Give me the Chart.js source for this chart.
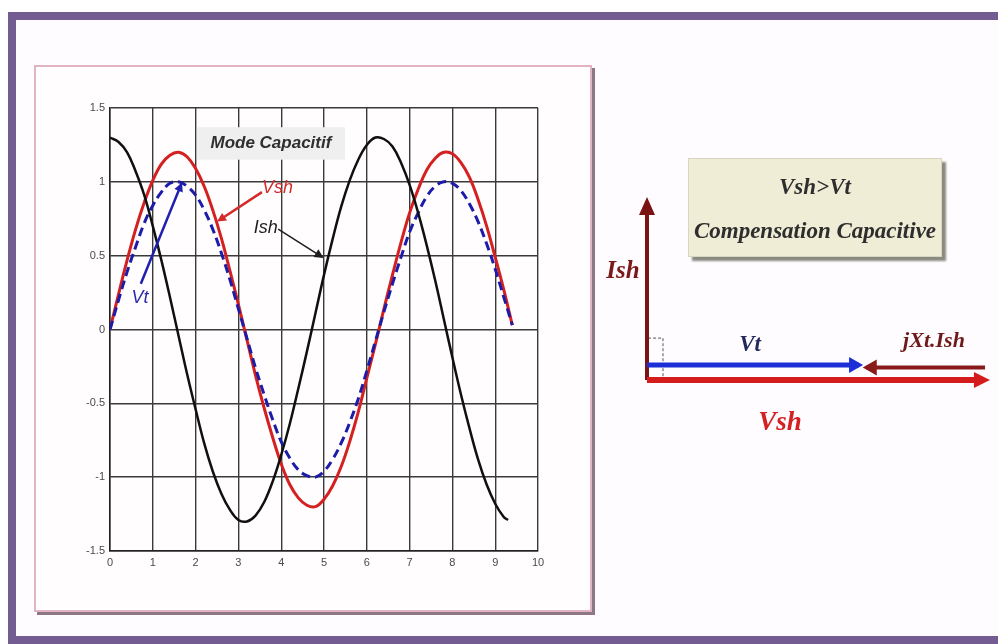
<!DOCTYPE html>
<html>
<head>
<meta charset="utf-8">
<script src="https://cdn.jsdelivr.net/npm/chart.js@4.4.1/dist/chart.umd.min.js"></script>
<style>
  html, body { margin:0; padding:0; width:998px; height:644px; overflow:hidden; background:#ffffff; }
  #frame { position:absolute; left:8px; top:12px; width:1020px; height:616px;
           border:8px solid #735c91; border-right:none; background:#fffcff; box-sizing:content-box; }
  #panel { position:absolute; left:34px; top:65px; width:554px; height:543px;
           border:2px solid #e2b3c3; background:#fffdfe; box-shadow:3px 3px 0 #8d7686; }
  #plotWrap { position:absolute; left:60px; top:95px; width:500px; height:490px; }
  #phWrap { position:absolute; left:600px; top:150px; width:398px; height:300px; }
  .lbl { position:absolute; font-family:"Liberation Serif","Times New Roman",serif; font-style:italic; font-weight:bold;
         white-space:nowrap; transform:translate(-50%,-50%); line-height:1; }
  #note { position:absolute; left:688px; top:158px; width:254px; height:99px; background:#efedd6;
          border:1px solid #d8d6c0; box-shadow:4px 4px 2px #8a8a80; box-sizing:border-box; }
  #note div { position:absolute; left:0; width:100%; text-align:center; font-family:"Liberation Serif","Times New Roman",serif;
              font-style:italic; font-weight:bold; color:#2e2e2e; font-size:23px; line-height:1; }
</style>
</head>
<body>
<div id="frame"></div>
<div id="panel"></div>
<div id="plotWrap"><canvas id="plot" width="500" height="490"></canvas></div>
<div id="phWrap"><canvas id="phasor" width="398" height="300"></canvas></div>
<div id="note"><div style="top:16px">Vsh&gt;Vt</div><div style="top:60px">Compensation Capacitive</div></div>
<div class="lbl" style="left:623px;top:269px;font-size:25px;color:#7b1818">Ish</div>
<div class="lbl" style="left:750px;top:343px;font-size:23px;color:#24295c">Vt</div>
<div class="lbl" style="left:934px;top:340px;font-size:22px;color:#6e1a1a">jXt.Ish</div>
<div class="lbl" style="left:780px;top:421px;font-size:27px;color:#d42020">Vsh</div>
<script>
// ---------- data ----------
const TIME = [0,0.2,0.4,0.6,0.8,1,1.2,1.4,1.6,1.8,2,2.2,2.4,2.6,2.8,3,3.2,3.4,3.6,3.8,4,4.2,4.4,4.6,4.8,
              5,5.2,5.4,5.6,5.8,6,6.2,6.4,6.6,6.8,7,7.2,7.4,7.6,7.8,8,8.2,8.4,8.6,8.8,9,9.2,9.4];
const ISH_LAST_TIME = 9.3;
const VSH = [0,0.24,0.47,0.68,0.86,1.01,1.12,1.18,1.20,1.17,1.09,0.97,0.81,0.62,0.40,0.17,-0.07,-0.31,-0.53,-0.73,
             -0.91,-1.05,-1.14,-1.19,-1.20,-1.15,-1.06,-0.93,-0.76,-0.56,-0.33,-0.10,0.14,0.37,0.59,0.79,0.95,1.08,1.16,1.20,
             1.19,1.13,1.03,0.88,0.70,0.49,0.27,0.03];
const VT  = [0,0.20,0.39,0.56,0.72,0.84,0.93,0.99,1.00,0.97,0.91,0.81,0.68,0.52,0.34,0.14,-0.06,-0.26,-0.44,-0.61,
             -0.76,-0.87,-0.95,-0.99,-1.00,-0.96,-0.88,-0.77,-0.63,-0.47,-0.28,-0.08,0.12,0.31,0.49,0.66,0.79,0.90,0.97,1.00,
             0.99,0.94,0.85,0.73,0.58,0.41,0.22,0.03];
const ISH = [1.30,1.27,1.20,1.07,0.91,0.70,0.47,0.22,-0.04,-0.30,-0.54,-0.77,-0.96,-1.11,-1.22,-1.29,-1.30,-1.26,-1.17,-1.03,
             -0.85,-0.64,-0.40,-0.15,0.11,0.37,0.61,0.83,1.01,1.15,1.25,1.30,1.29,1.24,1.13,0.98,0.79,0.57,0.33,0.07,
             -0.19,-0.44,-0.67,-0.88,-1.05,-1.18,-1.27,-1.29];
const X_TICK_LABELS = ['0','1','2','3','4','5','6','7','8','9','10'];
const Y_TICK_LABELS = ['-1.5','-1','-0.5','0','0.5','1','1.5'];
const TITLE_TEXT = 'Mode Capacitif';
// callouts: label, label anchor (x,y), arrow from (x,y) to (x,y)
const CALLOUT_NAMES = ['Vsh','Ish','Vt'];
const CALLOUT_LABEL_X = [3.55, 3.92, 0.70];
const CALLOUT_LABEL_Y = [0.96, 0.69, 0.21];
const CALLOUT_FROM_X = [3.55, 3.93, 0.72];
const CALLOUT_FROM_Y = [0.93, 0.68, 0.31];
const CALLOUT_TO_X   = [2.55, 4.96, 1.66];
const CALLOUT_TO_Y   = [0.74, 0.49, 0.98];

// phasor diagram (per-unit, Vt = 1)
const PHASOR_NAMES = ['Vsh','Vt','jXt.Ish','Ish'];
const PHASOR_FROM_RE = [0, 0, 1.565, 0];
const PHASOR_FROM_IM = [0, 0, 0, 0];
const PHASOR_TO_RE   = [1.56, 0.98, 1.015, 0];
const PHASOR_TO_IM   = [0, 0, 0, 0.826];

// ---------- helpers ----------
const pts = (xs, ys) => xs.map((x, i) => ({x, y: ys[i]}));
const ishTime = TIME.slice(0, TIME.length - 1).concat([ISH_LAST_TIME]);

function arrowHeadPlugin(id) {
  return {
    id,
    afterDatasetsDraw(chart) {
      const ctx = chart.ctx;
      chart.data.datasets.forEach((ds, i) => {
        if (!ds.arrowHead) return;
        const meta = chart.getDatasetMeta(i);
        if (meta.hidden) return;
        const d = meta.data, n = d.length;
        const p1 = d[n - 2], p2 = d[n - 1];
        const a = Math.atan2(p2.y - p1.y, p2.x - p1.x);
        const L = ds.arrowHead.len, W = ds.arrowHead.half;
        const off = (ds.borderWidth / 2) * (L / W);
        const tx = p2.x + Math.cos(a) * off, ty = p2.y + Math.sin(a) * off;
        ctx.save();
        ctx.fillStyle = ds.arrowHead.color || ds.borderColor;
        ctx.beginPath();
        ctx.moveTo(tx, ty);
        ctx.lineTo(tx - Math.cos(a) * L - Math.sin(a) * W, ty - Math.sin(a) * L + Math.cos(a) * W);
        ctx.lineTo(tx - Math.cos(a) * L + Math.sin(a) * W, ty - Math.sin(a) * L - Math.cos(a) * W);
        ctx.closePath();
        ctx.fill();
        ctx.restore();
      });
    }
  };
}

const annotPlugin = {
  id: 'annot',
  beforeDatasetsDraw(chart) {
    const {ctx, scales: {x, y}} = chart;
    const x0 = x.getPixelForValue(2.03), x1 = x.getPixelForValue(5.49);
    const y0 = y.getPixelForValue(1.37), y1 = y.getPixelForValue(1.15);
    ctx.save();
    ctx.fillStyle = '#efefef';
    ctx.fillRect(x0, y0, x1 - x0, y1 - y0);
    ctx.fillStyle = '#2f2f2f';
    ctx.font = 'italic bold 17px "Liberation Sans", Arial, sans-serif';
    ctx.textAlign = 'center';
    ctx.textBaseline = 'middle';
    ctx.fillText(TITLE_TEXT, (x0 + x1) / 2, (y0 + y1) / 2);
    ctx.restore();
  },
  afterDatasetsDraw(chart) {
    const {ctx, scales: {x, y}} = chart;
    const colors = ['#d42a2a', '#1e1e1e', '#2a2aa8'];
    const aligns = ['left', 'right', 'center'];
    ctx.save();
    ctx.font = 'italic 18px "Liberation Sans", Arial, sans-serif';
    ctx.textBaseline = 'middle';
    CALLOUT_NAMES.forEach((name, i) => {
      ctx.fillStyle = colors[i];
      ctx.textAlign = aligns[i];
      ctx.fillText(name, x.getPixelForValue(CALLOUT_LABEL_X[i]), y.getPixelForValue(CALLOUT_LABEL_Y[i]));
    });
    ctx.restore();
  }
};

const calloutColors = ['#d42a2a', '#1e1e1e', '#2020b0'];
const calloutWidths = [2.5, 1.5, 2.5];
const calloutSets = CALLOUT_NAMES.map((n, i) => ({
  label: n + ' callout',
  data: [{x: CALLOUT_FROM_X[i], y: CALLOUT_FROM_Y[i]}, {x: CALLOUT_TO_X[i], y: CALLOUT_TO_Y[i]}],
  borderColor: calloutColors[i], borderWidth: calloutWidths[i], pointRadius: 0, tension: 0,
  arrowHead: {len: 9, half: 4.5}, order: 0
}));

new Chart(document.getElementById('plot'), {
  type: 'line',
  data: {
    datasets: [
      {label: 'Vsh', data: pts(TIME, VSH), borderColor: '#d42020', borderWidth: 3, pointRadius: 0, tension: 0.4, order: 3},
      {label: 'Vt', data: pts(TIME, VT), borderColor: '#1c1ca8', borderWidth: 3, borderDash: [9, 5], pointRadius: 0, tension: 0.4, order: 2},
      {label: 'Ish', data: pts(ishTime, ISH), borderColor: '#101010', borderWidth: 2.5, pointRadius: 0, tension: 0.4, order: 1},
      ...calloutSets
    ]
  },
  options: {
    responsive: false, animation: false, events: [],
    layout: {padding: {top: 13, right: 22, left: 0, bottom: 0}},
    plugins: {legend: {display: false}, tooltip: {enabled: false}},
    scales: {
      x: {
        type: 'linear', min: 0, max: 10,
        afterFit(s) { s.height = 34; },
        ticks: {stepSize: 1, padding: 5, color: '#4a4a4a', font: {family: '"Liberation Sans", Arial, sans-serif', size: 11},
                callback: (v, i) => X_TICK_LABELS[i]},
        grid: {color: '#3a3a3a', lineWidth: 1.4, drawTicks: false},
        border: {display: true, color: '#222', width: 1.5}
      },
      y: {
        type: 'linear', min: -1.5, max: 1.5,
        afterFit(s) { s.width = 50; },
        ticks: {stepSize: 0.5, padding: 5, color: '#4a4a4a', font: {family: '"Liberation Sans", Arial, sans-serif', size: 11},
                callback: (v, i) => Y_TICK_LABELS[i]},
        grid: {color: '#3a3a3a', lineWidth: 1.4, drawTicks: false},
        border: {display: true, color: '#222', width: 1.5}
      }
    }
  },
  plugins: [annotPlugin, arrowHeadPlugin('heads1')]
});

// ---------- phasor diagram ----------
const phasorStyle = {
  'Vsh':     {color: '#d41c1c', width: 6, lane: 0,     head: {len: 16, half: 8}},
  'Vt':      {color: '#1c2fd6', width: 5, lane: 0.069, head: {len: 14, half: 8}},
  'jXt.Ish': {color: '#8a1a1a', width: 4, lane: 0.058, head: {len: 14, half: 8}},
  'Ish':     {color: '#7a1414', width: 4, lane: 0,     head: {len: 18, half: 8}}
};
const phasorSets = PHASOR_NAMES.map((n, i) => {
  const s = phasorStyle[n];
  return {
    label: n,
    data: [{x: PHASOR_FROM_RE[i], y: PHASOR_FROM_IM[i] + s.lane}, {x: PHASOR_TO_RE[i], y: PHASOR_TO_IM[i] + s.lane}],
    borderColor: s.color, borderWidth: s.width, pointRadius: 0, showLine: true, borderCapStyle: 'butt',
    arrowHead: s.head
  };
});
phasorSets.push({
  label: 'right angle',
  data: [{x: 0.005, y: 0.194}, {x: 0.074, y: 0.194}, {x: 0.074, y: 0}],
  borderColor: '#555', borderWidth: 1, borderDash: [3, 2], pointRadius: 0, showLine: true
});

new Chart(document.getElementById('phasor'), {
  type: 'scatter',
  data: {datasets: phasorSets},
  options: {
    responsive: false, animation: false, events: [],
    layout: {padding: 0},
    plugins: {legend: {display: false}, tooltip: {enabled: false}},
    scales: {
      x: {type: 'linear', display: false, min: -0.2176, max: 1.625},
      y: {type: 'linear', display: false, min: -0.324, max: 1.065}
    }
  },
  plugins: [arrowHeadPlugin('heads2')]
});
</script>
</body>
</html>
